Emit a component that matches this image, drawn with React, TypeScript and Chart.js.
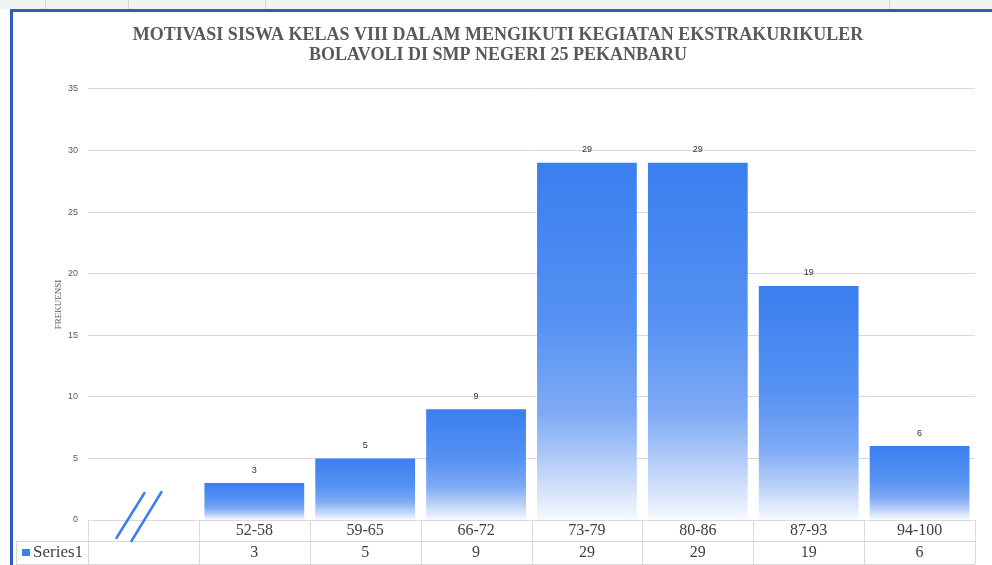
import React, { useEffect, useRef } from 'react';
import { Chart, registerables } from 'chart.js';

Chart.register(...registerables);

const categories = ['', '52-58', '59-65', '66-72', '73-79', '80-86', '87-93', '94-100'];
const frequencies: (number | null)[] = [null, 3, 5, 9, 29, 29, 19, 6];
const seriesName = 'Series1';
const titleLines = [
  'MOTIVASI SISWA KELAS VIII DALAM MENGIKUTI KEGIATAN EKSTRAKURIKULER',
  'BOLAVOLI DI SMP NEGERI 25 PEKANBARU',
];
const yTitle = 'FREKUENSI';
const yMin = 0;
const yMax = 35;
const yStep = 5;

const BLUE = '#3b7ff0';
const TEXT = '#404040';
const GRID = '#d9d9d9';

const framePlugin = {
  id: 'frame',
  beforeDraw(chart: any) {
    const { ctx, width, height } = chart;
    ctx.save();
    ctx.fillStyle = '#ffffff';
    ctx.fillRect(0, 0, width, height);
    ctx.fillStyle = '#f1f2f1';
    ctx.fillRect(0, 0, width, 9);
    ctx.strokeStyle = '#d4d6d4';
    ctx.lineWidth = 1;
    [45, 128, 265, 889].forEach((gx) => {
      ctx.beginPath();
      ctx.moveTo(gx + 0.5, 0);
      ctx.lineTo(gx + 0.5, 9);
      ctx.stroke();
    });
    ctx.fillStyle = '#2d5eb8';
    ctx.fillRect(10, 9, width - 10, 3);
    ctx.fillRect(10, 9, 3, height - 9);
    ctx.restore();
  },
};

const valueLabelPlugin = {
  id: 'valueLabels',
  afterDatasetsDraw(chart: any) {
    const { ctx } = chart;
    const meta = chart.getDatasetMeta(0);
    const data = chart.data.datasets[0].data;
    ctx.save();
    ctx.font = '9px "Liberation Sans", sans-serif';
    ctx.fillStyle = '#333333';
    ctx.textAlign = 'center';
    ctx.textBaseline = 'middle';
    meta.data.forEach((bar: any, i: number) => {
      const v = data[i];
      if (v == null) return;
      ctx.fillText(String(v), bar.x, bar.y - 13);
    });
    ctx.restore();
  },
};

const tablePlugin = {
  id: 'dataTable',
  afterDraw(chart: any) {
    const { ctx } = chart;
    const x = chart.scales.x;
    const y = chart.scales.y;
    const labels = chart.data.labels as string[];
    const data = chart.data.datasets[0].data;
    const n = labels.length;
    const y0 = y.getPixelForValue(0);
    const step = x.getPixelForValue(1) - x.getPixelForValue(0);
    const left = x.getPixelForValue(0) - step / 2;
    const right = x.getPixelForValue(n - 1) + step / 2;
    const r1b = y0 + 21;
    const r2b = y0 + 44;
    const legendLeft = 16;

    ctx.save();
    ctx.strokeStyle = GRID;
    ctx.lineWidth = 1;
    const hline = (yy: number, x1: number, x2: number) => {
      ctx.beginPath();
      ctx.moveTo(x1, Math.round(yy) + 0.5);
      ctx.lineTo(x2, Math.round(yy) + 0.5);
      ctx.stroke();
    };
    const vline = (xx: number, y1: number, y2: number) => {
      ctx.beginPath();
      ctx.moveTo(Math.round(xx) + 0.5, y1);
      ctx.lineTo(Math.round(xx) + 0.5, y2);
      ctx.stroke();
    };
    hline(y0, left, right);
    hline(r1b, legendLeft, right);
    hline(r2b, legendLeft, right);
    for (let i = 0; i <= n; i++) vline(left + i * step, y0, r2b);
    vline(legendLeft, r1b, r2b);

    ctx.fillStyle = TEXT;
    ctx.font = '16px "Liberation Serif", serif';
    ctx.textAlign = 'center';
    ctx.textBaseline = 'middle';
    for (let i = 0; i < n; i++) {
      const cx = x.getPixelForValue(i);
      if (labels[i]) ctx.fillText(labels[i], cx, y0 + 11);
      const v = data[i];
      if (v != null) ctx.fillText(String(v), cx, r1b + 12);
    }
    // legend key
    ctx.fillStyle = BLUE;
    ctx.fillRect(22, r1b + 8, 8, 7);
    ctx.fillStyle = TEXT;
    ctx.textAlign = 'left';
    ctx.font = '17px "Liberation Serif", serif';
    ctx.fillText(chart.data.datasets[0].label, 33, r1b + 12);

    // axis break marks
    const cx0 = x.getPixelForValue(0);
    ctx.strokeStyle = BLUE;
    ctx.lineWidth = 2.5;
    ctx.lineCap = 'round';
    ctx.beginPath();
    ctx.moveTo(cx0 - 27, y0 + 18);
    ctx.lineTo(cx0 + 1, y0 - 27);
    ctx.moveTo(cx0 - 12, y0 + 21);
    ctx.lineTo(cx0 + 18, y0 - 28);
    ctx.stroke();
    ctx.restore();
  },
};

export default function App() {
  const canvasRef = useRef<HTMLCanvasElement | null>(null);

  useEffect(() => {
    const canvas = canvasRef.current;
    if (!canvas) return;
    const chart = new Chart(canvas, {
      type: 'bar',
      data: {
        labels: categories,
        datasets: [
          {
            label: seriesName,
            data: frequencies,
            categoryPercentage: 1,
            barPercentage: 0.9,
            backgroundColor: (c: any) => {
              const ch = c.chart;
              const ys = ch.scales && ch.scales.y;
              if (!ys || c.type !== 'data' || c.raw == null) return BLUE;
              const top = ys.getPixelForValue(c.raw);
              const base = ys.getPixelForValue(0);
              if (!isFinite(top) || !isFinite(base) || base - top < 1) return BLUE;
              const g = ch.ctx.createLinearGradient(0, top, 0, base);
              g.addColorStop(0, '#3a7ef0');
              g.addColorStop(0.45, '#5592f2');
              g.addColorStop(0.7, '#7eaaf5');
              g.addColorStop(0.85, '#b9d0f8');
              g.addColorStop(1, '#f6f9ff');
              return g;
            },
            borderWidth: 0,
          },
        ],
      },
      options: {
        responsive: false,
        animation: false,
        devicePixelRatio: 1,
        layout: { padding: { left: 21, right: 17, top: 12, bottom: 45 } },
        plugins: {
          legend: { display: false },
          tooltip: { enabled: false },
          title: {
            display: true,
            text: titleLines,
            color: '#595959',
            font: { family: '"Liberation Serif", serif', size: 18, weight: 'bold', lineHeight: 1.11 },
            padding: { top: 13, bottom: 24 },
          },
        },
        scales: {
          x: {
            display: false,
            offset: true,
            grid: { display: false },
          },
          y: {
            min: yMin,
            max: yMax,
            afterFit: (s: any) => {
              s.width = 67;
            },
            ticks: {
              stepSize: yStep,
              padding: 10,
              color: '#595959',
              font: { family: '"Liberation Sans", sans-serif', size: 9 },
            },
            grid: { color: GRID, drawTicks: false, lineWidth: 1 },
            border: { display: false },
            title: {
              display: true,
              text: yTitle,
              color: '#595959',
              font: { family: '"Liberation Serif", serif', size: 9 },
              padding: { top: 32, bottom: 0 },
            },
          },
        },
      },
      plugins: [framePlugin, valueLabelPlugin, tablePlugin],
    } as any);
    return () => chart.destroy();
  }, []);

  return (
    <div style={{ position: 'absolute', left: 0, top: 0, width: 992, height: 565, overflow: 'hidden' }}>
      <canvas ref={canvasRef} width={992} height={565} style={{ display: 'block' }} />
    </div>
  );
}
